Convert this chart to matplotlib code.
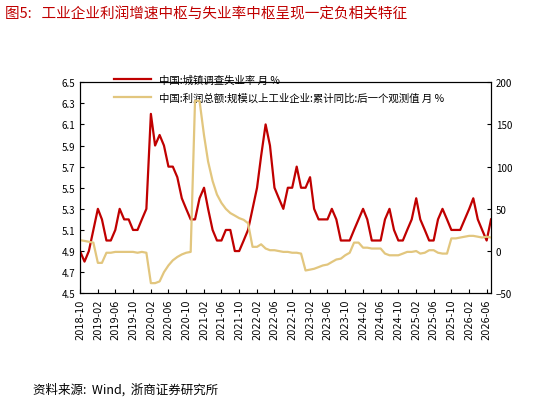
import matplotlib
matplotlib.use("Agg")
import matplotlib.pyplot as plt
import pandas as pd

plt.rcParams['font.family'] = ['Noto Sans CJK SC', 'DejaVu Sans']

months = pd.date_range("2018-10-01", periods=94, freq="MS")
unemp = [4.9,4.8,4.9,5.1,5.3,5.2,5.0,5.0,5.1,5.3,5.2,5.2,5.1,5.1,5.2,5.3,
         6.2,5.9,6.0,5.9,5.7,5.7,5.6,5.4,5.3,5.2,5.2,5.4,5.5,5.3,5.1,5.0,
         5.0,5.1,5.1,4.9,4.9,5.0,5.1,5.3,5.5,5.8,6.1,5.9,5.5,5.4,5.3,5.5,
         5.5,5.7,5.5,5.5,5.6,5.3,5.2,5.2,5.2,5.3,5.2,5.0,5.0,5.0,5.1,5.2,
         5.3,5.2,5.0,5.0,5.0,5.2,5.3,5.1,5.0,5.0,5.1,5.2,5.4,5.2,5.1,5.0,
         5.0,5.2,5.3,5.2,5.1,5.1,5.1,5.2,5.3,5.4,5.2,5.1,5.0,5.2]
profit = [13,12,11,10,-14,-14,-2,-2,-1,-1,-1,-1,-1,-2,-1,-2,
          -38,-38,-36,-25,-17,-11,-7,-4,-2,-1,178,178,137,106,83,67,
          57,50,45,42,39,37,33,5,5,8,3,1,1,0,-1,-1,
          -2,-2,-3,-23,-22,-21,-19,-17,-16,-13,-10,-9,-5,-2,10,10,
          4,4,3,3,3,-3,-5,-5,-5,-3,-1,-1,0,-3,-2,1,
          1,-2,-3,-3,15,15,16,17,18,18,17,16,17,16]

red = '#c00000'
gold = '#e2c67e'
fig = plt.figure(figsize=(5.48, 4.02), dpi=100)
ax = fig.add_axes([0.146, 0.268, 0.75, 0.525])
ax2 = ax.twinx()
l1, = ax.plot(months, unemp, color=red, lw=1.6, label='中国:城镇调查失业率 月 %')
l2, = ax2.plot(months, profit, color=gold, lw=1.6, label='中国:利润总额:规模以上工业企业:累计同比:后一个观测值 月 %')
ax.set_ylim(4.5, 6.5)
ax.set_yticks([4.5,4.7,4.9,5.1,5.3,5.5,5.7,5.9,6.1,6.3,6.5])
ax2.set_ylim(-50, 200)
ax2.set_yticks([-50,0,50,100,150,200])
ax.set_xlim(months[0], months[-1])
ticks = pd.date_range("2018-10-01", "2026-06-01", freq="4MS")
ax.set_xticks(ticks)
ax.set_xticklabels([t.strftime("%Y-%m") for t in ticks], rotation=90, fontsize=7, family='DejaVu Sans')
for a in (ax, ax2):
    a.tick_params(labelsize=7, direction='in', length=3)
    for s in a.spines.values():
        s.set_linewidth(0.8)
ax.legend(handles=[l1, l2], loc='upper left', bbox_to_anchor=(0.06, 1.08), frameon=False,
          fontsize=7.5, handlelength=3.5, labelspacing=0.7)
fig.text(0.01, 0.965, '图5:   工业企业利润增速中枢与失业率中枢呈现一定负相关特征', color=red,
         fontsize=10.5, va='center')
fig.text(0.06, 0.03, '资料来源:  Wind,  浙商证券研究所', fontsize=9, va='center')
fig.savefig('out.png', dpi=100)
